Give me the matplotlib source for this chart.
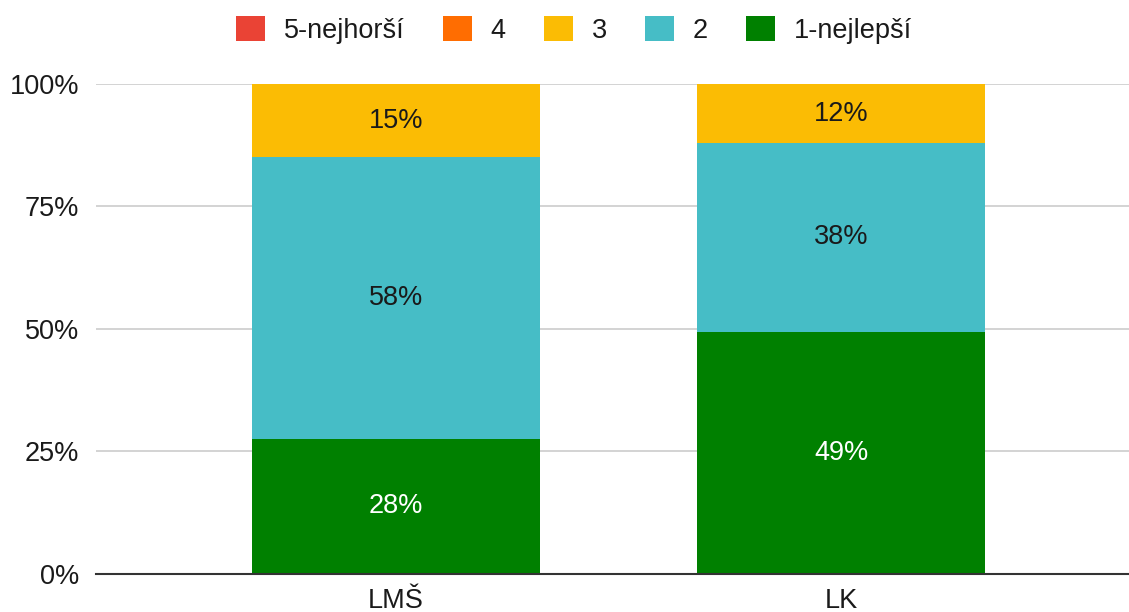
import matplotlib.pyplot as plt
from matplotlib.patches import Patch
from matplotlib.ticker import FuncFormatter

plt.rcParams["font.family"] = ["Liberation Sans", "DejaVu Sans"]

categories = ["LMŠ", "LK"]
series_names = ["1-nejlepší", "2", "3", "4", "5-nejhorší"]
share_1 = [27.5, 49.4]
share_2 = [57.5, 38.5]
share_3 = [15.0, 12.1]
share_4 = [0.0, 0.0]
share_5 = [0.0, 0.0]
yticks = [0, 25, 50, 75, 100]

COLORS = ["#008000", "#46BDC6", "#FBBC04", "#FF6D01", "#EA4335"]
INK = "#1a1a1a"
LABEL_COLORS = ["white", INK, INK, INK, INK]
FS = 19.5

fig = plt.figure(figsize=(11.29, 6.12), dpi=100)
ax = fig.add_axes([96 / 1129, 1 - 573.5 / 612, 1 - 96 / 1129, (573.5 - 84) / 612])

x = list(range(len(categories)))
width = 0.647
bottom = [0.0] * len(categories)
for vals, color, lcol in zip([share_1, share_2, share_3, share_4, share_5], COLORS, LABEL_COLORS):
    ax.bar(x, vals, width, bottom=bottom, color=color, zorder=2)
    for xi, v, b in zip(x, vals, bottom):
        if v > 0:
            ax.text(xi, b + v / 2, f"{v:.0f}%", ha="center", va="center",
                    fontsize=FS, color=lcol, zorder=3)
    bottom = [b + v for b, v in zip(bottom, vals)]

ax.set_xlim(-0.674, 1.647)
ax.set_ylim(0, 100)
ax.set_yticks(yticks)
ax.yaxis.set_major_formatter(FuncFormatter(lambda v, _: f"{v:.0f}%"))
ax.set_xticks(x)
ax.set_xticklabels(categories)
ax.tick_params(axis="both", length=0, labelsize=FS, labelcolor=INK)
ax.tick_params(axis="y", pad=12)
ax.tick_params(axis="x", pad=10.5)

ax.grid(axis="y", color="#cccccc", linewidth=1.2, zorder=0)
ax.set_axisbelow(True)
for side in ["top", "right", "left"]:
    ax.spines[side].set_visible(False)
ax.spines["bottom"].set_color("#333333")
ax.spines["bottom"].set_linewidth(1.5)
ax.spines["bottom"].set_zorder(4)

handles = [Patch(facecolor=c, edgecolor="none") for c in COLORS[::-1]]
fig.legend(handles, series_names[::-1], loc="center", bbox_to_anchor=(574 / 1129, 1 - 30 / 612),
           ncol=5, frameon=False, fontsize=FS, handlelength=1.07, handleheight=1.07,
           handletextpad=0.7, columnspacing=1.4, labelcolor=INK)

fig.savefig("out.png", dpi=100)
